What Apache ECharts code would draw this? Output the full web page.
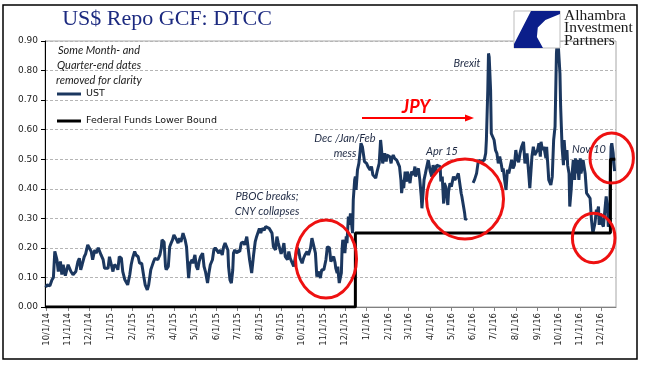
<!DOCTYPE html>
<html><head><meta charset="utf-8">
<script src="https://cdn.jsdelivr.net/npm/echarts@6/dist/echarts.min.js"></script>
<style>html,body{margin:0;padding:0;background:#fff}#c{width:652px;height:381px}</style>
</head><body><div id="c"></div>
<script>
const ust2014 = [
['2014-09-30',0.067],['2014-10-02',0.075],['2014-10-04',0.08],['2014-10-06',0.072],['2014-10-09',0.092],['2014-10-11',0.10],['2014-10-13',0.188],['2014-10-16',0.16],['2014-10-18',0.12],['2014-10-21',0.154],['2014-10-23',0.11],['2014-10-25',0.143],['2014-10-28',0.106],
['2014-11-01',0.143],['2014-11-03',0.148],['2014-11-05',0.12],['2014-11-08',0.109],['2014-11-10',0.109],['2014-11-12',0.12],['2014-11-15',0.154],['2014-11-17',0.165],['2014-11-19',0.126],['2014-11-21',0.143],['2014-11-24',0.17],['2014-11-26',0.18],['2014-11-29',0.21],
['2014-12-01',0.205],['2014-12-04',0.188],['2014-12-06',0.16],['2014-12-09',0.193],['2014-12-11',0.182],['2014-12-14',0.2],['2014-12-16',0.205],['2014-12-18',0.176],['2014-12-21',0.16],['2014-12-23',0.131],['2014-12-25',0.137],['2014-12-28',0.131],['2014-12-30',0.17]
];
const ust2015 = [
['2015-01-01',0.165],['2015-01-04',0.12],['2015-01-06',0.143],['2015-01-09',0.137],['2015-01-11',0.126],['2015-01-13',0.17],['2015-01-16',0.165],['2015-01-18',0.12],['2015-01-21',0.092],['2015-01-23',0.098],['2015-01-25',0.075],['2015-01-28',0.109],['2015-01-30',0.143],
['2015-02-01',0.165],['2015-02-04',0.188],['2015-02-06',0.176],['2015-02-09',0.17],['2015-02-11',0.148],['2015-02-14',0.148],['2015-02-17',0.103],['2015-02-19',0.075],['2015-02-22',0.058],['2015-02-24',0.075],['2015-02-27',0.126],
['2015-03-01',0.14],['2015-03-03',0.154],['2015-03-05',0.165],['2015-03-07',0.17],['2015-03-09',0.16],['2015-03-12',0.176],['2015-03-14',0.2],['2015-03-15',0.227],['2015-03-18',0.22],['2015-03-20',0.137],['2015-03-21',0.126],['2015-03-24',0.137],['2015-03-26',0.204],['2015-03-28',0.216],['2015-03-30',0.227],
['2015-04-01',0.244],['2015-04-03',0.25],['2015-04-05',0.227],['2015-04-07',0.216],['2015-04-09',0.233],['2015-04-11',0.22],['2015-04-14',0.25],['2015-04-15',0.255],['2015-04-17',0.227],['2015-04-19',0.204],['2015-04-21',0.131],['2015-04-22',0.098],['2015-04-24',0.148],['2015-04-27',0.16],['2015-04-28',0.148],
['2015-05-01',0.176],['2015-05-03',0.137],['2015-05-05',0.126],['2015-05-07',0.154],['2015-05-09',0.17],['2015-05-12',0.182],['2015-05-14',0.137],['2015-05-16',0.12],['2015-05-19',0.081],['2015-05-21',0.115],['2015-05-23',0.143],['2015-05-26',0.16],['2015-05-28',0.193],['2015-05-30',0.2],
['2015-06-01',0.204],['2015-06-04',0.182],['2015-06-06',0.193],['2015-06-09',0.176],['2015-06-11',0.204],['2015-06-13',0.216],['2015-06-15',0.22],['2015-06-17',0.193],['2015-06-18',0.137],['2015-06-20',0.092],['2015-06-22',0.081],['2015-06-24',0.126],['2015-06-25',0.182],['2015-06-27',0.193],['2015-06-30',0.182],
['2015-07-01',0.19],['2015-07-04',0.188],['2015-07-06',0.216],['2015-07-09',0.22],['2015-07-11',0.21],['2015-07-14',0.238],['2015-07-16',0.233],['2015-07-18',0.16],['2015-07-21',0.115],['2015-07-22',0.109],['2015-07-24',0.182],['2015-07-26',0.22],['2015-07-28',0.238],
['2015-08-01',0.266],['2015-08-03',0.25],['2015-08-05',0.266],['2015-08-08',0.26],['2015-08-10',0.272],['2015-08-12',0.277],['2015-08-15',0.266],['2015-08-17',0.272],['2015-08-19',0.25],['2015-08-21',0.204],['2015-08-24',0.193],['2015-08-26',0.238],['2015-08-28',0.216],
['2015-09-01',0.18],['2015-09-03',0.193],['2015-09-05',0.216],['2015-09-07',0.17],['2015-09-10',0.16],['2015-09-12',0.188],['2015-09-14',0.165],['2015-09-17',0.148],['2015-09-19',0.137],['2015-09-21',0.165],['2015-09-24',0.2],['2015-09-26',0.193],['2015-09-28',0.165],
['2015-10-01',0.148],['2015-10-03',0.165],['2015-10-05',0.176],['2015-10-08',0.188],['2015-10-10',0.176],['2015-10-13',0.2],['2015-10-15',0.233],['2015-10-17',0.238],['2015-10-20',0.182],['2015-10-22',0.103],['2015-10-24',0.12],['2015-10-27',0.098],['2015-10-29',0.126],
['2015-11-01',0.126],['2015-11-04',0.16],['2015-11-06',0.204],['2015-11-09',0.2],['2015-11-11',0.154],['2015-11-13',0.15],['2015-11-15',0.171],['2015-11-17',0.15],['2015-11-18',0.132],['2015-11-20',0.115],['2015-11-21',0.137],['2015-11-22',0.104],['2015-11-23',0.081],['2015-11-25',0.075],['2015-11-26',0.115],['2015-11-27',0.194],['2015-11-28',0.227],['2015-11-30',0.205],
['2015-12-01',0.182],['2015-12-03',0.239],['2015-12-04',0.216],['2015-12-06',0.306],['2015-12-07',0.278],['2015-12-09',0.317],['2015-12-10',0.312],['2015-12-12',0.25],['2015-12-13',0.362],['2015-12-15',0.43],['2015-12-16',0.441],['2015-12-17',0.396],['2015-12-19',0.464],['2015-12-21',0.486],['2015-12-22',0.48],['2015-12-23',0.531],['2015-12-24',0.554],['2015-12-26',0.542],['2015-12-28',0.509],['2015-12-29',0.492]
];
const ust2016 = [
['2016-01-01',0.486],['2016-01-03',0.475],['2016-01-04',0.469],['2016-01-06',0.464],['2016-01-08',0.475],['2016-01-10',0.447],['2016-01-12',0.441],['2016-01-14',0.436],['2016-01-16',0.458],['2016-01-19',0.486],['2016-01-21',0.565],['2016-01-22',0.542],['2016-01-24',0.486],['2016-01-26',0.509],['2016-01-27',0.52],['2016-01-29',0.492],['2016-01-30',0.514],
['2016-02-01',0.52],['2016-02-03',0.509],['2016-02-05',0.486],['2016-02-06',0.503],['2016-02-08',0.514],['2016-02-10',0.503],['2016-02-13',0.497],['2016-02-15',0.503],['2016-02-17',0.475],['2016-02-19',0.43],['2016-02-20',0.385],['2016-02-22',0.43],['2016-02-23',0.402],['2016-02-25',0.458],['2016-02-27',0.424],['2016-02-28',0.458],
['2016-03-01',0.441],['2016-03-03',0.419],['2016-03-05',0.458],['2016-03-08',0.447],['2016-03-10',0.475],['2016-03-11',0.441],['2016-03-13',0.458],['2016-03-15',0.469],['2016-03-17',0.43],['2016-03-19',0.374],['2016-03-20',0.334],['2016-03-22',0.396],['2016-03-23',0.43],['2016-03-25',0.452],['2016-03-26',0.464],['2016-03-28',0.486],['2016-03-29',0.497],['2016-03-31',0.503],
['2016-04-01',0.458],['2016-04-03',0.441],['2016-04-05',0.48],['2016-04-08',0.452],['2016-04-10',0.48],['2016-04-12',0.486],['2016-04-15',0.475],['2016-04-16',0.425],['2016-04-18',0.441],['2016-04-20',0.35],['2016-04-21',0.419],['2016-04-23',0.407],['2016-04-25',0.362],['2016-04-26',0.345],['2016-04-27',0.39],['2016-04-29',0.419],
['2016-05-01',0.407],['2016-05-03',0.43],['2016-05-04',0.441],['2016-05-06',0.43],['2016-05-09',0.441],['2016-05-11',0.452],['2016-05-13',0.447],['2016-05-15',0.385],['2016-05-16',0.374],['2016-05-18',0.38],['2016-05-20',0.317],['2016-05-21',0.295],['2016-05-23',0.3],['2016-05-27',null],
['2016-06-01',0.42],['2016-06-03',0.43],['2016-06-05',0.425],['2016-06-06',0.452],['2016-06-08',0.486],['2016-06-09',0.497],['2016-06-12',0.492],['2016-06-14',0.486],['2016-06-17',0.497],['2016-06-19',0.52],['2016-06-20',0.565],['2016-06-22',0.734],['2016-06-23',0.858],['2016-06-24',0.846],['2016-06-26',0.734],['2016-06-27',0.587],['2016-06-29',0.576],
['2016-07-01',0.565],['2016-07-03',0.531],['2016-07-05',0.52],['2016-07-07',0.486],['2016-07-09',0.509],['2016-07-11',0.486],['2016-07-13',0.458],['2016-07-14',0.469],['2016-07-16',0.43],['2016-07-18',0.396],['2016-07-20',0.464],['2016-07-22',0.452],['2016-07-24',0.475],['2016-07-26',0.497],['2016-07-28',0.469],['2016-07-30',0.48],
['2016-08-01',0.531],['2016-08-03',0.50],['2016-08-05',0.49],['2016-08-07',0.52],['2016-08-09',0.54],['2016-08-12',0.559],['2016-08-14',0.486],['2016-08-17',0.52],['2016-08-19',0.464],['2016-08-21',0.402],['2016-08-24',0.509],['2016-08-26',0.542],['2016-08-28',0.514],
['2016-09-01',0.531],['2016-09-03',0.554],['2016-09-05',0.509],['2016-09-06',0.559],['2016-09-08',0.531],['2016-09-10',0.542],['2016-09-13',0.503],['2016-09-14',0.542],['2016-09-16',0.469],['2016-09-17',0.43],['2016-09-20',0.413],['2016-09-22',0.441],['2016-09-24',0.565],['2016-09-26',0.61],['2016-09-27',0.734],['2016-09-28',0.858],['2016-09-30',0.93],
['2016-10-01',0.87],['2016-10-03',0.79],['2016-10-04',0.677],['2016-10-05',0.61],['2016-10-06',0.542],['2016-10-08',0.48],['2016-10-09',0.565],['2016-10-11',0.497],['2016-10-13',0.531],['2016-10-14',0.48],['2016-10-16',0.452],['2016-10-17',0.34],['2016-10-19',0.396],['2016-10-20',0.441],['2016-10-22',0.497],['2016-10-24',0.43],['2016-10-25',0.503],['2016-10-27',0.452],['2016-10-28',0.497],['2016-10-30',0.43],
['2016-11-01',0.503],['2016-11-02',0.452],['2016-11-04',0.475],['2016-11-05',0.497],['2016-11-08',0.452],['2016-11-10',0.385],['2016-11-12',0.38],['2016-11-15',0.368],['2016-11-17',0.295],['2016-11-19',0.25],['2016-11-21',0.244],['2016-11-22',0.284],['2016-11-24',0.329],['2016-11-25',0.317],['2016-11-27',0.34],['2016-11-28',0.278],['2016-11-30',0.317],
['2016-12-01',0.289],['2016-12-03',0.295],['2016-12-04',0.272],['2016-12-06',0.267],['2016-12-07',0.351],['2016-12-08',0.374],['2016-12-10',0.329],['2016-12-11',0.272],['2016-12-13',0.28],['2016-12-14',0.45],['2016-12-15',0.542],['2016-12-16',0.554],['2016-12-18',0.52],['2016-12-19',0.486],['2016-12-20',0.46]
];
const fedDates = ['2014-09-29','2015-12-16','2016-12-14','2016-12-21'];
const fedValues = [0, 0.25, 0.5, 0.5];
const yMin = 0, yMax = 0.9, yStep = 0.1;
const xStart = '2014-09-29', xEnd = '2016-12-22';
const seriesNames = ['UST', 'Federal Funds Lower Bound'];

const DAY = 86400000;
const toTime = s => { const p = s.split('-').map(Number); return new Date(p[0], p[1]-1, p[2]).getTime(); };
const ust = ust2014.concat(ust2015, ust2016);
const fed = fedDates.map((d, i) => [d, fedValues[i]]);

const chart = echarts.init(document.getElementById('c'), null, {renderer: 'canvas'});
const noteFont = 'italic 11px Lato';
const noteColor = '#1f2a44';
function txt(x, y, text, font, fill, align) {
  return {type: 'text', x: x, y: y, z: 100, silent: true,
    style: {text: text, font: font, fill: fill, textAlign: align || 'center', textVerticalAlign: 'middle', align: align || 'center', verticalAlign: 'middle'}};
}
function ring(cx, cy, rx, ry) {
  return {type: 'ellipse', z: 100, silent: true, shape: {cx: cx, cy: cy, rx: rx, ry: ry}, style: {fill: 'none', stroke: '#ee1111', lineWidth: 3}};
}

const option = {
  animation: false,
  backgroundColor: '#fff',
  grid: {left: 45, right: 36, top: 41, bottom: 74, show: true, borderColor: '#a6a6a6', borderWidth: 1},
  legend: {
    left: 57, top: 89, orient: 'vertical', padding: 0, itemGap: 17, itemWidth: 24, itemHeight: 3, icon: 'rect',
    selectedMode: false,
    textStyle: {fontFamily: 'DejaVu Sans', fontSize: 9.5, color: '#111'},
    data: seriesNames
  },
  xAxis: {
    type: 'time', min: toTime(xStart), max: toTime(xEnd),
    splitNumber: 27, minInterval: 27 * DAY, maxInterval: 32 * DAY,
    axisLine: {lineStyle: {color: '#808080', width: 1}},
    axisTick: {show: true, length: 4, lineStyle: {color: '#808080'}},
    splitLine: {show: false},
    axisLabel: {
      rotate: 90, fontSize: 8.5, fontFamily: 'DejaVu Sans', color: '#222', margin: 6,
      formatter: function (v) { const d = new Date(v); return (d.getMonth() + 1) + '/' + d.getDate() + '/' + String(d.getFullYear()).slice(2); }
    }
  },
  yAxis: {
    type: 'value', min: yMin, max: yMax, interval: yStep,
    axisLine: {show: true, lineStyle: {color: '#000', width: 1}},
    axisTick: {show: true, length: 4, lineStyle: {color: '#000'}},
    axisLabel: {formatter: v => v.toFixed(2), fontSize: 9, fontFamily: 'DejaVu Sans', color: '#222', margin: 7},
    splitLine: {lineStyle: {type: [3, 2], color: '#b5b5b5', width: 1}}
  },
  series: [
    {name: seriesNames[0], type: 'line', data: ust, symbol: 'none', showSymbol: false, connectNulls: false,
     lineStyle: {color: '#1b375f', width: 3}, itemStyle: {color: '#1b375f'}, z: 3},
    {name: seriesNames[1], type: 'line', step: 'end', data: fed, symbol: 'none', showSymbol: false,
     lineStyle: {color: '#000', width: 3}, itemStyle: {color: '#000'}, z: 4}
  ],
  graphic: [
    {type: 'rect', z: 100, silent: true, shape: {x: 3, y: 5, width: 634, height: 354}, style: {fill: 'none', stroke: '#000', lineWidth: 1.5}},
    txt(167, 19.5, 'US$ Repo GCF: DTCC', '22px "Liberation Serif"', '#1c2a80'),
    txt(99, 50, 'Some Month- and', noteFont, '#1a1a1a'),
    txt(99, 65, 'Quarter-end dates', noteFont, '#1a1a1a'),
    txt(99, 80, 'removed for clarity', noteFont, '#1a1a1a'),
    txt(267, 196, 'PBOC breaks;', noteFont, noteColor),
    txt(267, 211, 'CNY collapses', noteFont, noteColor),
    txt(345, 138, 'Dec /Jan/Feb', noteFont, noteColor),
    txt(345, 153, 'mess', noteFont, noteColor),
    txt(442, 151, 'Apr 15', noteFont, noteColor),
    txt(467, 63, 'Brexit', noteFont, noteColor),
    txt(589, 149, 'Nov 10', noteFont, noteColor),
    txt(416, 107, 'JPY', 'italic bold 18px Lato', '#ff0000'),
    {type: 'line', z: 100, silent: true, shape: {x1: 362, y1: 118, x2: 468, y2: 118}, style: {stroke: '#ff0000', lineWidth: 2}},
    {type: 'polygon', z: 100, silent: true, shape: {points: [[465, 114.5], [474, 118], [465, 121.5]]}, style: {fill: '#ff0000'}},
    ring(326, 259, 30.5, 39),
    ring(465, 199, 38.5, 40),
    ring(593.7, 238, 21.3, 24.7),
    ring(611.7, 158, 21.7, 25),
    {type: 'rect', z: 100, silent: true, shape: {x: 514, y: 11, width: 46, height: 37}, style: {fill: '#fff', stroke: '#bdbdbd', lineWidth: 1}},
    {type: 'polygon', z: 101, silent: true, shape: {points: [[531, 11], [560, 11], [560, 14], [545.4, 19.9], [537.8, 27.5], [536.9, 36.9], [543, 48], [514, 48], [514, 44]]}, style: {fill: '#0b1e8a'}},
    txt(564, 15.7, 'Alhambra', '15.5px "Liberation Serif"', '#1a1a1a', 'left'),
    txt(564, 28.3, 'Investment', '15.5px "Liberation Serif"', '#1a1a1a', 'left'),
    txt(564, 40.7, 'Partners', '15.5px "Liberation Serif"', '#1a1a1a', 'left')
  ]
};
chart.setOption(option);
</script>
</body></html>
